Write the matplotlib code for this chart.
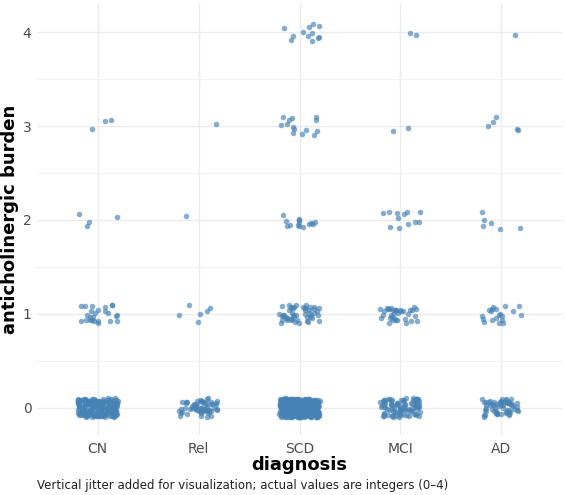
import numpy as np
import matplotlib.pyplot as plt
from matplotlib.ticker import MultipleLocator

# categories and burden levels
diagnoses = ['CN', 'Rel', 'SCD', 'MCI', 'AD']
levels = [0, 1, 2, 3, 4]

# number of subjects at each burden level (one list per level, order = diagnoses)
counts_level0 = [200, 60, 300, 90, 60]
counts_level1 = [25, 6, 50, 35, 20]
counts_level2 = [4, 1, 14, 12, 6]
counts_level3 = [3, 1, 14, 2, 5]
counts_level4 = [0, 0, 12, 2, 1]

counts = [counts_level0, counts_level1, counts_level2, counts_level3, counts_level4]

# jitter only for display (fixed seed so output is stable)
rng = np.random.default_rng(7)

fig = plt.figure(figsize=(5.66, 4.95), dpi=100)
ax = fig.add_axes([0.0654, 0.1212, 0.9276, 0.8707])

for lev, row in zip(levels, counts):
    for i, n in enumerate(row):
        if n == 0:
            continue
        xs = i + 1 + rng.uniform(-0.2, 0.2, n)
        ys = lev + rng.uniform(-0.1, 0.1, n)
        ax.scatter(xs, ys, s=16, color='#4682B4', alpha=0.65, linewidths=0, zorder=3)

ax.set_xlim(0.4, 5.6)
ax.set_ylim(-0.29, 4.30)
ax.set_xticks(range(1, len(diagnoses) + 1))
ax.set_xticklabels(diagnoses)
ax.set_yticks(levels)
ax.yaxis.set_minor_locator(MultipleLocator(0.5))
ax.grid(True, which='major', color='#ebebeb', linewidth=1.0, zorder=0)
ax.grid(True, which='minor', axis='y', color='#f2f2f2', linewidth=0.8, zorder=0)
for s in ax.spines.values():
    s.set_visible(False)
ax.tick_params(axis='both', which='both', length=0, labelsize=10, labelcolor='#4d4d4d')
ax.tick_params(axis='x', pad=5)
ax.tick_params(axis='y', pad=4)

ax.set_xlabel('diagnosis', fontsize=13, fontweight='bold')
ax.set_ylabel('anticholinergic burden', fontsize=13, fontweight='bold')
ax.xaxis.set_label_coords(0.5, -0.048)
ax.yaxis.set_label_coords(-0.034, 0.5)

fig.text(0.0654, 0.02, 'Vertical jitter added for visualization; actual values are integers (0\u20134)',
         fontsize=8.5, color='#222222', va='center')

fig.savefig('out.png', dpi=100)
